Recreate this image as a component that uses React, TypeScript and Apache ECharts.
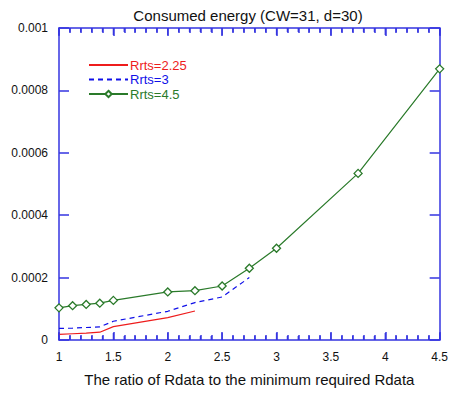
import React, { useEffect, useRef } from "react";
import * as echarts from "echarts";

const xGreen = [1, 1.125, 1.25, 1.375, 1.5, 2, 2.25, 2.5, 2.75, 3, 3.75, 4.5];
const yGreen = [0.000103, 0.00011, 0.000114, 0.000118, 0.000127, 0.000154, 0.000158, 0.000173, 0.00023, 0.000294, 0.000534, 0.000869];
const xBlue = [1, 1.125, 1.25, 1.375, 1.5, 2, 2.25, 2.5, 2.75];
const yBlue = [0.000037, 0.000038, 0.00004, 0.000042, 0.00006, 0.000092, 0.00012, 0.000138, 0.0002];
const xRed = [1, 1.125, 1.25, 1.375, 1.5, 2, 2.25];
const yRed = [0.000018, 0.00002, 0.000022, 0.000025, 0.000043, 0.0000715, 0.000093];
const seriesNames = ["Rrts=2.25", "Rrts=3", "Rrts=4.5"];
const titleText = "Consumed energy (CW=31, d=30)";
const xName = "The ratio of Rdata to the minimum required Rdata";
const xMajorTicks = [1, 1.5, 2, 2.5, 3, 3.5, 4, 4.5];
const xMinorTicks = [
  1.1, 1.2, 1.3, 1.4, 1.6, 1.7, 1.8, 1.9, 2.1, 2.2, 2.3, 2.4, 2.6, 2.7, 2.8, 2.9,
  3.1, 3.2, 3.3, 3.4, 3.6, 3.7, 3.8, 3.9, 4.1, 4.2, 4.3, 4.4,
];

const AXIS = "#3535e0";
const RED = "#ee1c1c";
const BLUE = "#1010e8";
const GREEN = "#2a7a2a";
const FONT = "Liberation Sans";
const Y_MIN = 0;
const Y_MAX = 0.001;

const zip = (xs: number[], ys: number[]) => xs.map((x, i) => [x, ys[i]]);

const mkLine = () => ({ show: true, onZero: false, lineStyle: { color: AXIS, width: 1.5 } });
const mkTick = (len: number) => ({ show: true, inside: true, length: len, lineStyle: { color: AXIS, width: 1.5 } });
const mkMinor = () => ({ show: true, splitNumber: 5, length: 5, lineStyle: { color: AXIS, width: 1.5 } });

export default function App() {
  const ref = useRef<HTMLDivElement>(null);
  useEffect(() => {
    const chart = echarts.init(ref.current!, null, { renderer: "svg" });
    const tickData = [
      ...xMajorTicks.map((v) => [v, Y_MIN, 1]),
      ...xMinorTicks.map((v) => [v, Y_MIN, 0]),
    ];
    chart.setOption({
      animation: false,
      title: {
        text: titleText,
        left: 243,
        textAlign: "center",
        top: 3,
        textStyle: { fontFamily: FONT, fontSize: 15, fontWeight: "normal", color: "#111" },
      },
      legend: {
        orient: "vertical",
        left: 83,
        top: 53,
        itemWidth: 39,
        itemHeight: 8,
        itemGap: 0.5,
        textStyle: { fontFamily: FONT, fontSize: 13, lineHeight: 14, padding: [0, 0, 0, -3] },
        data: [
          { name: seriesNames[0], textStyle: { color: RED }, itemStyle: { opacity: 0 } },
          { name: seriesNames[1], textStyle: { color: BLUE }, itemStyle: { opacity: 0 } },
          { name: seriesNames[2], textStyle: { color: GREEN } },
        ],
      },
      grid: { left: 59, right: 8, top: 28, bottom: 53 },
      xAxis: [
        {
          type: "value",
          min: 1,
          max: 4.5,
          interval: 0.5,
          name: xName,
          nameLocation: "middle",
          nameGap: 32,
          nameTextStyle: { fontFamily: FONT, fontSize: 15, color: "#111" },
          axisLine: mkLine(),
          axisTick: mkTick(8),
          minorTick: mkMinor(),
          axisLabel: { fontFamily: FONT, fontSize: 12, color: "#111", margin: 11 },
          splitLine: { show: false },
        },
        {
          type: "value",
          min: 1,
          max: 4.5,
          interval: 0.5,
          position: "top",
          axisLine: mkLine(),
          axisTick: mkTick(8),
          minorTick: mkMinor(),
          axisLabel: { show: false },
          splitLine: { show: false },
        },
      ],
      yAxis: [
        {
          type: "value",
          min: Y_MIN,
          max: Y_MAX,
          interval: 0.0002,
          axisLine: mkLine(),
          axisTick: mkTick(10),
          axisLabel: {
            fontFamily: FONT,
            fontSize: 12,
            color: "#111",
            margin: 11,
            formatter: (v: number) => (v === 0 ? "0" : String(+v.toFixed(4))),
          },
          splitLine: { show: false },
        },
        {
          type: "value",
          min: Y_MIN,
          max: Y_MAX,
          interval: 0.0002,
          position: "right",
          axisLine: mkLine(),
          axisTick: mkTick(10),
          axisLabel: { show: false },
          splitLine: { show: false },
        },
      ],
      series: [
        {
          name: seriesNames[0],
          type: "line",
          data: zip(xRed, yRed),
          symbol: "circle",
          symbolSize: 2,
          showSymbol: false,
          color: RED,
          lineStyle: { color: RED, width: 1.2 },
        },
        {
          name: seriesNames[1],
          type: "line",
          data: zip(xBlue, yBlue),
          symbol: "none",
          color: BLUE,
          lineStyle: { color: BLUE, width: 1.2, type: [5, 4] },
        },
        {
          name: seriesNames[2],
          type: "line",
          data: zip(xGreen, yGreen),
          symbol: "diamond",
          symbolSize: 8,
          color: GREEN,
          itemStyle: { color: "#fff", borderColor: GREEN, borderWidth: 1.3 },
          lineStyle: { color: GREEN, width: 1.2 },
        },
        {
          name: "xTicks",
          type: "custom",
          silent: true,
          clip: false,
          z: 5,
          encode: { x: 0, y: 1 },
          data: tickData,
          renderItem: (_params: any, api: any) => {
            const v = api.value(0);
            const len = api.value(2) === 1 ? 7 : 4;
            const b = api.coord([v, Y_MIN]);
            const t = api.coord([v, Y_MAX]);
            const style = { stroke: AXIS, lineWidth: 1.3, fill: null };
            return {
              type: "group",
              children: [
                { type: "line", shape: { x1: b[0], y1: b[1], x2: b[0], y2: b[1] - len }, style },
                { type: "line", shape: { x1: t[0], y1: t[1], x2: t[0], y2: t[1] + len }, style },
              ],
            };
          },
        },
      ],
    });
    return () => chart.dispose();
  }, []);
  return <div ref={ref} style={{ width: 451, height: 393, position: "absolute", left: 0, top: 0 }} />;
}
